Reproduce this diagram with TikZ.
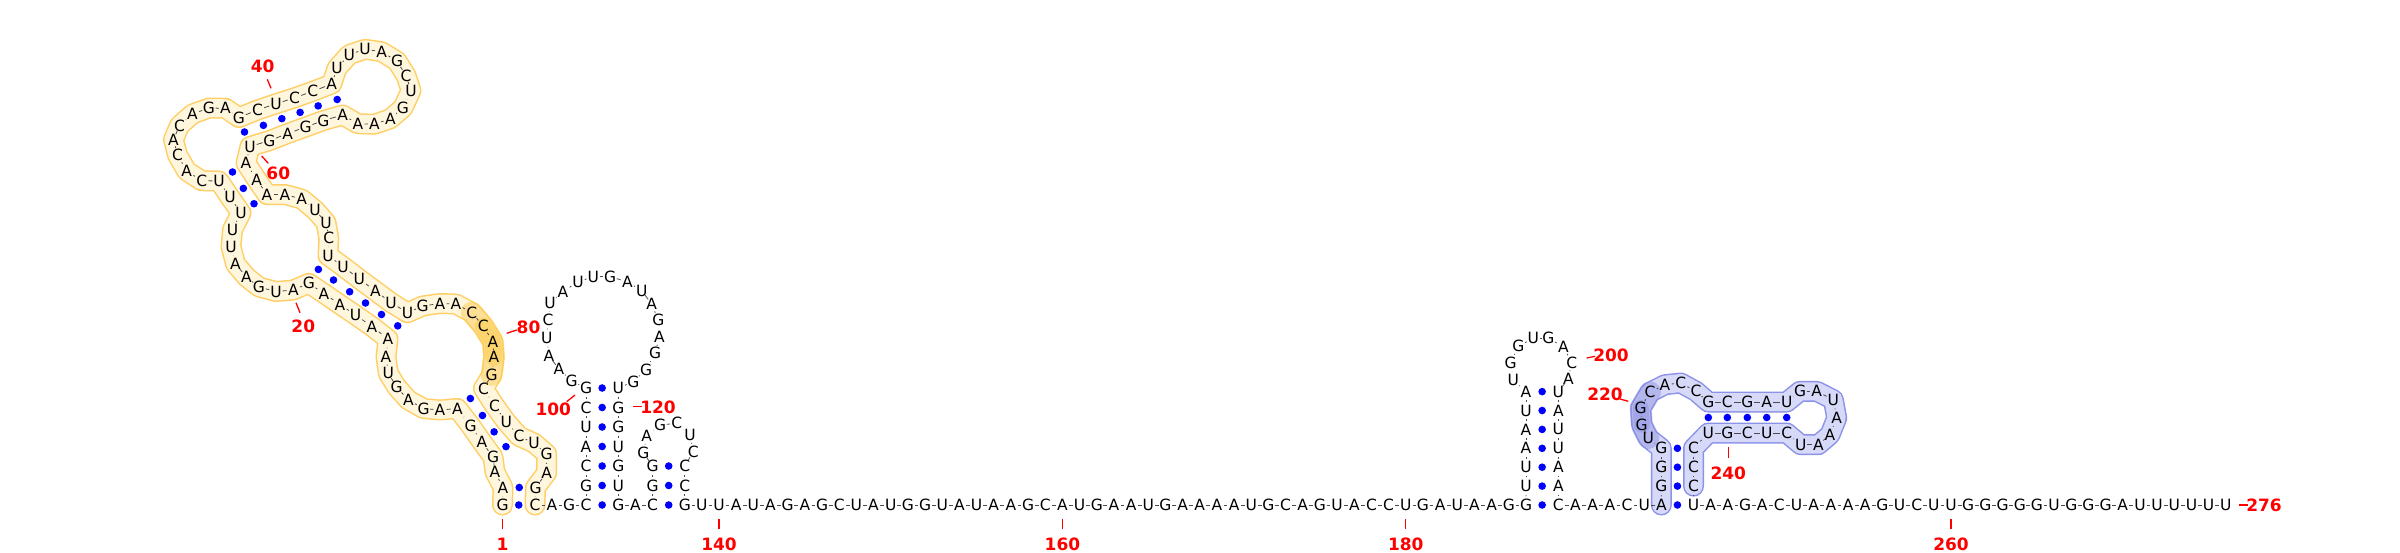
\documentclass[tikz,border=0pt]{standalone}
\usepackage{fontspec}
\setmainfont{DejaVu Sans}
\usetikzlibrary{calc,backgrounds}
\definecolor{ybandout}{RGB}{255,206,100}
\definecolor{ybandin}{RGB}{255,246,222}
\definecolor{yhi}{RGB}{252,204,78}
\definecolor{bbandout}{RGB}{140,146,232}
\definecolor{bbandin}{RGB}{214,217,247}
\definecolor{bhi}{RGB}{138,142,226}
\definecolor{numred}{RGB}{255,0,0}
\definecolor{pairblue}{RGB}{0,0,255}
\begin{document}
\begin{tikzpicture}[x=1pt,y=-1pt,
  nt/.style={inner sep=0pt, minimum width=13pt, minimum height=17pt, font=\fontsize{15.5}{15.5}\selectfont},
  bb/.style={draw=black!70, line width=0.8pt},
  lbl/.style={text=numred, font=\fontsize{17}{17}\selectfont\bfseries, inner sep=0pt},
  numtick/.style={draw=numred, line width=1.3pt},
  bandout/.style={line width=21pt, line cap=round, line join=round},
  bandin/.style={line width=18pt, line cap=round, line join=round}]
\useasboundingbox (0,0) rectangle (2400,552);
% explicit nucleotides
\foreach \i/\x/\y/\b in {
1/502.5/505/G, 2/503/487.5/A, 3/495/472/A, 4/493/457/G, 5/482/442/A, 6/470.5/425.5/G,
7/457.3/408.5/A, 8/440/410/A, 9/423.5/408.5/G, 10/408.3/400/A, 11/396.7/387/G, 12/388.3/373.3/U,
13/386/357/A, 14/388/339/A, 15/372/326.5/A, 16/355.5/315/U, 17/340/304.5/A, 18/324/293.5/A,
19/308.8/283.3/G, 20/293.3/290/A, 21/276/291.5/U, 22/259/287/G, 23/246.5/277/A, 24/235.5/264/A,
25/231/246.5/U, 26/232.5/229.5/U, 27/241/213/U, 28/230/197.3/U, 29/219/181/U, 30/201.7/180.7/C,
31/186.7/171/A, 32/177.5/155/C, 33/173.5/139.5/A, 34/179.5/125.5/C, 35/192.5/114/A, 36/209/108/G,
37/225.5/108.3/A, 38/239/117.5/G, 39/257.5/110/C, 40/276/103.8/U, 41/294.5/97.8/C, 42/312.8/91.3/C,
43/331.7/84/A, 44/337/68.3/U, 45/349.3/54.5/U, 46/365/49.3/U, 47/381.7/51.7/A, 48/397/61.2/G,
49/406/75.5/C, 50/411/90.5/U, 51/403/107.8/G, 52/390.3/118.8/A, 53/374.5/124.2/A, 54/357.8/123.7/A,
55/342.7/115/A, 56/323.5/120.5/G, 57/305.7/127/G, 58/287.7/133.5/A, 59/269.3/140.7/G, 60/250/146.5/U,
61/246/163/A, 62/256.7/179.5/A, 63/267/194.5/A, 64/285/194.5/A, 65/301.7/199/A, 66/315/210/U,
67/326/222.5/U, 68/328.8/238.3/C, 69/328/255.5/U, 70/343/266.5/U, 71/359.3/279/U, 72/375.5/291/A,
73/391/302.5/U, 74/407.5/312.7/U, 75/422.7/306/G, 76/440/303.5/A, 77/456/304/A, 78/471.7/312.5/C,
79/483.3/326.2/C, 80/492.8/341.5/A, 81/494/357.3/A, 82/491.7/375/G, 83/483.5/388.5/C, 84/494.5/405.5/C,
85/506.2/421.7/U, 86/519/436.3/C, 87/534/443/U, 88/546.7/454/G, 89/546.7/472.7/A, 90/535.5/487.5/G,
91/535/505/C, 92/552/505/A, 93/569/505/G, 94/586/505/C, 95/586/485.5/G, 96/586/466/C,
97/586/446.5/A, 98/586/427/U, 99/586/407.5/C, 100/586/388/G,
101/571.7/381/G, 102/559/369/A, 103/549/356/A, 104/546.7/338/U, 105/548/320/C, 106/550/303/U,
107/563/291.7/A, 108/578/281.7/U, 109/593.3/276.7/U, 110/610/276.7/G, 111/627.3/281.7/A, 112/641.7/290.7/U,
113/651.7/304/A, 114/658.3/320/G, 115/659.3/337.3/A, 116/655/353.3/G, 117/646/370/G, 118/633.3/381.7/G,
119/618.3/388/U, 120/618.3/407.5/G, 121/618.3/427/G, 122/618.3/446.5/U, 123/618.3/466/G, 124/618.3/485.5/U,
125/618.3/505/G, 126/635.5/505/A, 127/652.6/505/C, 128/652.6/485.5/G, 129/652.6/466/G, 130/643.3/452.7/G,
131/646.7/436/A, 132/660/425/G, 133/676.7/423.3/C, 134/690/435/U, 135/693.3/451.7/C, 136/684.8/466/C,
137/684.8/485.5/C, 138/684.8/505/G,
188/1526/486.1/U, 189/1526/467.2/U, 190/1526/448.3/A, 191/1526/429.4/A, 192/1526/410.5/U, 193/1526/391.6/A,
194/1513.3/380/U, 195/1510.7/362.5/G, 196/1518.3/346/G, 197/1533.3/338.3/U, 198/1548.3/338.3/G, 199/1563.3/346.5/A,
200/1571.7/362.5/C, 201/1568.3/379/A, 202/1558.3/391.6/U, 203/1558.3/410.5/A, 204/1558.3/429.4/U, 205/1558.3/448.3/U,
206/1558.3/467.2/A, 207/1558.3/486.1/A, 208/1558.3/505/C,
215/1661.3/486.1/G, 216/1661.3/467.2/G, 217/1661.3/448.3/G, 218/1648.3/438/U, 219/1641.7/424.7/G, 220/1640.7/408/G,
221/1650/392.3/C, 222/1665/384.7/A, 223/1680.7/383/C, 224/1696/391.3/C, 225/1708.3/402/G, 226/1727.3/402/C,
227/1747.3/402/G, 228/1766.7/402/A, 229/1786.7/402/U, 230/1800/391.3/G, 231/1816.7/391.3/A, 232/1833.3/399.7/U,
233/1836.7/418/A, 234/1830/434.7/A, 235/1818.3/444.7/A, 236/1800.7/444.7/U, 237/1786.7/433/C, 238/1766.7/433/U,
239/1747.3/433/C, 240/1727.3/433/G, 241/1708.3/433/U, 242/1693.5/448.3/C, 243/1693.5/467.2/C, 244/1693.5/486.1/C}
{\node[nt] (n\i) at (\x,\y) {\b};}
% baseline runs
\foreach \b [count=\k from 139] in {U,U,A,U,A,G,A,G,C,U,A,U,G,G,U,A,U,A,A,G,C,A,U,G,A,A,U,G,A,A,A,A,U,G,C,A,G,U,A,C,C,U,G,A,U,A,A,G,G}
{\pgfmathsetmacro\xx{719+(\k-140)*17.17}\node[nt] (n\k) at (\xx,505) {\b};}
\foreach \b [count=\k from 209] in {A,A,A,C,U,A}
{\pgfmathsetmacro\xx{1558.3+(\k-208)*17.17}\node[nt] (n\k) at (\xx,505) {\b};}
\foreach \b [count=\k from 245] in {U,A,A,G,A,C,U,A,A,A,A,G,U,C,U,U,G,G,G,G,G,U,G,G,G,A,U,U,U,U,U,U}
{\pgfmathsetmacro\xx{1693.5+(\k-245)*17.17}\node[nt] (n\k) at (\xx,505) {\b};}
% highlighted domains
\begin{scope}[on background layer]
\draw[bandout, draw=ybandout] (n1.center) \foreach \i in {2,...,91} {-- (n\i.center)};
\draw[bandin, draw=ybandin] (n1.center) \foreach \i in {2,...,91} {-- (n\i.center)};
\draw[line width=22pt, line cap=round, line join=round, draw=yhi, opacity=0.5] (n78.center) -- (n79.center) -- (n80.center) -- (n81.center) -- (n82.center);
\draw[line width=17pt, line cap=round, line join=round, draw=yhi, opacity=0.55] (n79.center) -- (n80.center) -- (n81.center);
\draw[bandout, draw=bbandout] (n214.center) \foreach \i in {215,...,244} {-- (n\i.center)};
\draw[bandin, draw=bbandin] (n214.center) \foreach \i in {215,...,244} {-- (n\i.center)};
\draw[line width=22pt, line cap=round, line join=round, draw=bhi, opacity=0.45] (n218.center) -- (n219.center) -- (n220.center) -- (n221.center);
\draw[line width=16pt, line cap=round, line join=round, draw=bhi, opacity=0.4] (n219.center) -- (n220.center);
\end{scope}
% backbone
\foreach \i [evaluate=\i as \j using int(\i+1)] in {1,...,275} {\draw[bb] (n\i) -- (n\j);}
% base pairs
\foreach \a/\b in {1/91,2/90,4/86,5/85,6/84,7/83,14/74,15/73,16/72,17/71,18/70,19/69,27/63,28/62,29/61,
38/60,39/59,40/58,41/57,42/56,43/55,94/125,95/124,96/123,97/122,98/121,99/120,100/119,127/138,128/137,129/136,
187/208,188/207,189/206,190/205,191/204,192/203,193/202,214/245,215/244,216/243,217/242,225/241,226/240,227/239,228/238,229/237}
{\fill[pairblue] ($(n\a.center)!0.5!(n\b.center)$) circle (3.8);}
% numbering
\foreach \k in {1,140,160,180,260}
{\draw[numtick] ($(n\k.center)+(0,14)$) -- ($(n\k.center)+(0,24)$);
 \node[lbl] (lab\k) at ($(n\k.center)+(0,39.5)$) {\k};}
\draw[numtick] (296,302.7) -- (300,312.7); \node[lbl] (lab20) at (303.3,326.7) {20};
\draw[numtick] (267.3,79.3) -- (271,88.3); \node[lbl] (lab40) at (262.7,66) {40};
\draw[numtick] (261.7,156) -- (268.3,163.3); \node[lbl] (lab60) at (278.3,173.5) {60};
\draw[numtick] (506.7,333.3) -- (516.7,330); \node[lbl] (lab80) at (528.5,327) {80};
\draw[numtick] (566.7,401.7) -- (575,395); \node[lbl] (lab100) at (553.3,409) {100};
\draw[numtick] (633.3,406.7) -- (642,406.7); \node[lbl] (lab120) at (658,407.3) {120};
\draw[numtick] (1586.7,358) -- (1595,356.3); \node[lbl] (lab200) at (1611,355.7) {200};
\draw[numtick] (1620,399) -- (1628.3,401.3); \node[lbl] (lab220) at (1605,394.7) {220};
\draw[numtick] (1728.3,447) -- (1728.3,458); \node[lbl] (lab240) at (1728.3,473.7) {240};
\draw[numtick] (2239.3,505) -- (2247.5,505); \node[lbl] (lab276) at (2264,505) {276};
\end{tikzpicture}
\end{document}
